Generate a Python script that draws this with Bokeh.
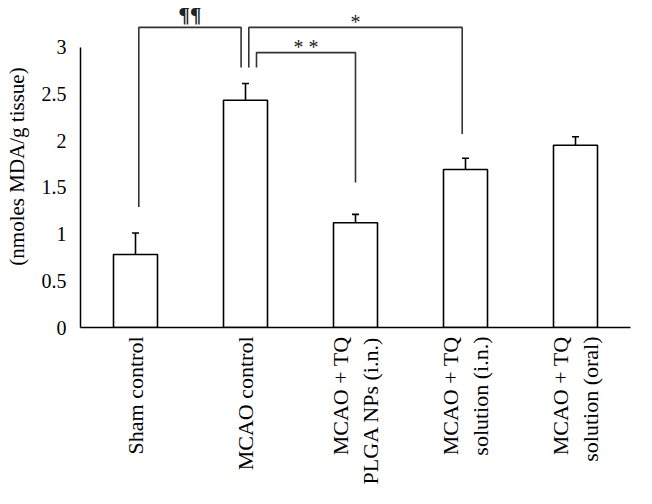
from bokeh.plotting import figure
from bokeh.models import ColumnDataSource, FactorRange, Range1d, Whisker, TeeHead, FixedTicker
from bokeh.core.properties import value
from bokeh.embed import file_html
from bokeh.resources import INLINE
import math

# ---- data ----
groups = ["Sham control", "MCAO control", "MCAO + TQ\nPLGA NPs (i.n.)",
          "MCAO + TQ\nsolution (i.n.)", "MCAO + TQ\nsolution (oral)"]
mda = [0.78, 2.43, 1.12, 1.69, 1.95]
sem = [0.23, 0.18, 0.09, 0.12, 0.09]
y_ticks = [0, 0.5, 1, 1.5, 2, 2.5, 3]
y_tick_labels = ["0", "0.5", "1", "1.5", "2", "2.5", "3"]
y_label = "(nmoles MDA/g tissue)"

# significance brackets (annotation): from group, offset, foot height, to group, offset, foot height, top height
brackets = [
    (0, 0.03, 1.29, 1, -0.04, 2.78, 3.21),
    (1, 0.03, 2.78, 3, -0.03, 2.07, 3.21),
    (1, 0.10, 2.78, 2, 0.00, 1.55, 2.94),
]
marks = ["¶¶", "*", "* *"]
mark_y = [3.34, 3.27, 3.00]

FONT = "Liberation Serif"

p = figure(x_range=FactorRange(factors=groups, range_padding=0, factor_padding=0),
           y_range=Range1d(0, 3.444),
           width=636, height=488,
           min_border_left=80, min_border_right=6, min_border_top=5, min_border_bottom=161,
           output_backend="svg", toolbar_location=None)

src = ColumnDataSource(dict(g=groups, v=mda, top=[m + s for m, s in zip(mda, sem)]))
p.vbar(x="g", top="v", bottom=0, width=0.4, source=src,
       fill_color="white", line_color="black", line_width=1.6)
p.add_layout(Whisker(source=src, base="g", lower="v", upper="top",
                     lower_head=None,
                     upper_head=TeeHead(size=7, line_color="black", line_width=1.6),
                     line_color="black", line_width=1.6))

# brackets drawn in synthetic categorical coordinates
xs, ys, mx = [], [], []
for (i0, o0, y0, i1, o1, y1, yt) in brackets:
    x0 = i0 + 0.5 + o0
    x1 = i1 + 0.5 + o1
    xs.append([x0, x0, x1, x1])
    ys.append([y0, yt, yt, y1])
    mx.append((x0 + x1) / 2)
p.multi_line(xs=xs, ys=ys, line_color="#333333", line_width=1.6)
p.text(x=mx[:1], y=mark_y[:1], text=marks[:1], text_font=value(FONT), text_font_size="21px",
       text_font_style="bold", text_align="center", text_baseline="alphabetic", text_color="#222222")
p.text(x=mx[1:], y=mark_y[1:], text=marks[1:], text_font=value(FONT), text_font_size="20px",
       text_align="center", text_baseline="alphabetic", text_color="#222222")

# axes styling
p.xgrid.visible = False
p.ygrid.visible = False
p.outline_line_color = None
p.background_fill_color = "white"

p.yaxis.ticker = FixedTicker(ticks=y_ticks)
p.yaxis.major_label_overrides = dict(zip(y_ticks, y_tick_labels))
p.yaxis.bounds = (0, 3)
p.yaxis.axis_label = y_label
p.yaxis.axis_label_text_font = FONT
p.yaxis.axis_label_text_font_style = "normal"
p.yaxis.axis_label_text_font_size = "21px"
p.yaxis.axis_label_text_color = "black"
p.yaxis.axis_label_standoff = 10

for ax in (p.xaxis[0], p.yaxis[0]):
    ax.axis_line_color = "black"
    ax.axis_line_width = 1.5
    ax.major_tick_line_color = None
    ax.minor_tick_line_color = None
    ax.major_tick_out = 0
    ax.major_tick_in = 0
    ax.major_label_text_font = FONT
    ax.major_label_text_color = "black"

p.yaxis.major_label_text_font_size = "20px"
p.xaxis.major_label_text_font_size = "22px"
p.yaxis.major_label_standoff = 14
p.xaxis.major_label_orientation = math.pi / 2
p.xaxis.major_label_standoff = 9

open("out.html", "w").write(file_html(p, INLINE))
